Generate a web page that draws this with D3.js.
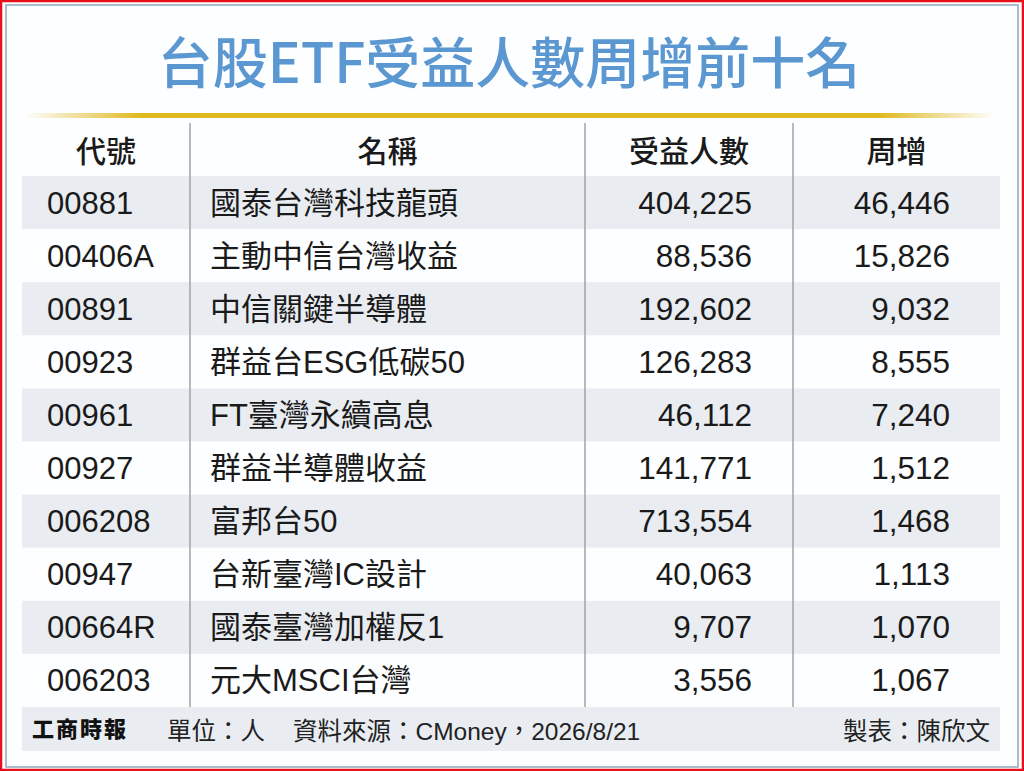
<!DOCTYPE html>
<html>
<head>
<meta charset="utf-8">
<script src="https://cdn.jsdelivr.net/npm/d3@7"></script>
<style>
  html, body { margin: 0; padding: 0; background: #fff; }
  svg { display: block; }
</style>
</head>
<body>
<div id="chart"></div>
<script>
var width = 1024;
var height = 771;

// table data
var headers = ['代號', '名稱', '受益人數', '周增'];
var codes = ['00881', '00406A', '00891', '00923', '00961', '00927', '006208', '00947', '00664R', '006203'];
var names = ['國泰台灣科技龍頭', '主動中信台灣收益', '中信關鍵半導體', '群益台ESG低碳50', 'FT臺灣永續高息',
  '群益半導體收益', '富邦台50', '台新臺灣IC設計', '國泰臺灣加權反1', '元大MSCI台灣'];
var holders = [404225, 88536, 192602, 126283, 46112, 141771, 713554, 40063, 9707, 3556];
var weeklyAdds = [46446, 15826, 9032, 8555, 7240, 1512, 1468, 1113, 1070, 1067];

var title = '台股ETF受益人數周增前十名';
var logo = '工商時報';
var unitNote = '單位：人';
var sourceNote = '資料來源：CMoney，2026/8/21';
var authorNote = '製表：陳欣文';

var latin = '"Liberation Sans", Arial, "Noto Sans CJK TC", sans-serif';
var cjk = '"Noto Sans CJK TC", "Noto Sans CJK SC", sans-serif';
var fmt = d3.format(',');

var colEdges = [22, 190, 585, 793, 1000];
var tableTop = 176;
var tableBottom = 707;

var svg = d3.select('#chart')
  .append('svg')
  .attr('width', width)
  .attr('height', height);

var defs = svg.append('defs');
var grad = defs.append('linearGradient')
  .attr('id', 'gold')
  .attr('x1', '0%').attr('x2', '100%');
grad.append('stop').attr('offset', '0%').attr('stop-color', '#e0b920').attr('stop-opacity', 0);
grad.append('stop').attr('offset', '12%').attr('stop-color', '#e0b920').attr('stop-opacity', 1);
grad.append('stop').attr('offset', '88%').attr('stop-color', '#e0b920').attr('stop-opacity', 1);
grad.append('stop').attr('offset', '100%').attr('stop-color', '#e0b920').attr('stop-opacity', 0);

// frame
svg.append('rect')
  .attr('x', 1).attr('y', 1)
  .attr('width', width - 2).attr('height', height - 2)
  .style('fill', '#fff')
  .style('stroke', '#e8111b')
  .style('stroke-width', 2.5);
svg.append('rect')
  .attr('x', 6).attr('y', 5)
  .attr('width', 1012).attr('height', 762)
  .style('fill', '#fdfeff')
  .style('stroke', '#8ea6bd')
  .style('stroke-width', 1.5);

// title
svg.append('text')
  .attr('x', 509)
  .attr('y', 83)
  .attr('text-anchor', 'middle')
  .style('font-family', cjk)
  .style('font-weight', 500)
  .style('font-size', '55px')
  .style('fill', '#5b97d1')
  .text(title);

svg.append('rect')
  .attr('x', 25).attr('y', 113)
  .attr('width', 970).attr('height', 5)
  .style('fill', 'url(#gold)');

var y = d3.scaleBand()
  .domain(d3.range(codes.length))
  .range([tableTop, tableBottom]);

var rows = svg.append('g')
  .selectAll('g')
  .data(codes)
  .join('g')
  .attr('transform', function(d, i) { return 'translate(0,' + y(i) + ')'; });

rows.append('rect')
  .attr('x', colEdges[0])
  .attr('width', colEdges[4] - colEdges[0])
  .attr('height', y.bandwidth())
  .style('fill', function(d, i) { return i % 2 === 0 ? '#e9edf2' : 'none'; });

var base = y.bandwidth() / 2 + 11;

rows.append('text')
  .attr('x', 47)
  .attr('y', base)
  .style('font-family', latin)
  .style('font-size', '31px')
  .style('fill', '#1a1a1a')
  .text(function(d) { return d; });

rows.append('text')
  .attr('x', 210)
  .attr('y', base)
  .style('font-family', latin)
  .style('font-size', '31px')
  .style('fill', '#1a1a1a')
  .text(function(d, i) { return names[i]; });

rows.append('text')
  .attr('x', 752)
  .attr('y', base)
  .attr('text-anchor', 'end')
  .style('font-family', latin)
  .style('font-size', '31.5px')
  .style('fill', '#1a1a1a')
  .text(function(d, i) { return fmt(holders[i]); });

rows.append('text')
  .attr('x', 950)
  .attr('y', base)
  .attr('text-anchor', 'end')
  .style('font-family', latin)
  .style('font-size', '31.5px')
  .style('fill', '#1a1a1a')
  .text(function(d, i) { return fmt(weeklyAdds[i]); });

// header
svg.append('g')
  .selectAll('text')
  .data(headers)
  .join('text')
  .attr('x', function(d, i) { return (colEdges[i] + colEdges[i + 1]) / 2; })
  .attr('y', 162)
  .attr('text-anchor', 'middle')
  .style('font-family', cjk)
  .style('font-weight', 500)
  .style('font-size', '30px')
  .style('fill', '#1a1a1a')
  .text(function(d) { return d; });

// column separators
svg.append('g')
  .selectAll('line')
  .data(colEdges.slice(1, 4))
  .join('line')
  .attr('x1', function(d) { return d; })
  .attr('x2', function(d) { return d; })
  .attr('y1', 123)
  .attr('y2', tableBottom)
  .style('stroke', '#a2a2a2')
  .style('stroke-width', 1.5);

// footer
svg.append('rect')
  .attr('x', colEdges[0]).attr('y', 707)
  .attr('width', colEdges[4] - colEdges[0]).attr('height', 44)
  .style('fill', '#e9edf2');

svg.append('text')
  .attr('x', 32).attr('y', 737)
  .style('font-family', cjk)
  .style('font-weight', 900)
  .style('font-size', '22px')
  .style('letter-spacing', '2px')
  .style('fill', '#111')
  .text(logo);

svg.append('text')
  .attr('x', 167).attr('y', 740)
  .style('font-family', latin)
  .style('font-size', '24.5px')
  .style('fill', '#222')
  .text(unitNote);

svg.append('text')
  .attr('x', 293).attr('y', 740)
  .style('font-family', latin)
  .style('font-size', '24.5px')
  .style('fill', '#222')
  .text(sourceNote);

svg.append('text')
  .attr('x', 990).attr('y', 740)
  .attr('text-anchor', 'end')
  .style('font-family', latin)
  .style('font-size', '24.5px')
  .style('fill', '#222')
  .text(authorNote);
</script>
</body>
</html>
